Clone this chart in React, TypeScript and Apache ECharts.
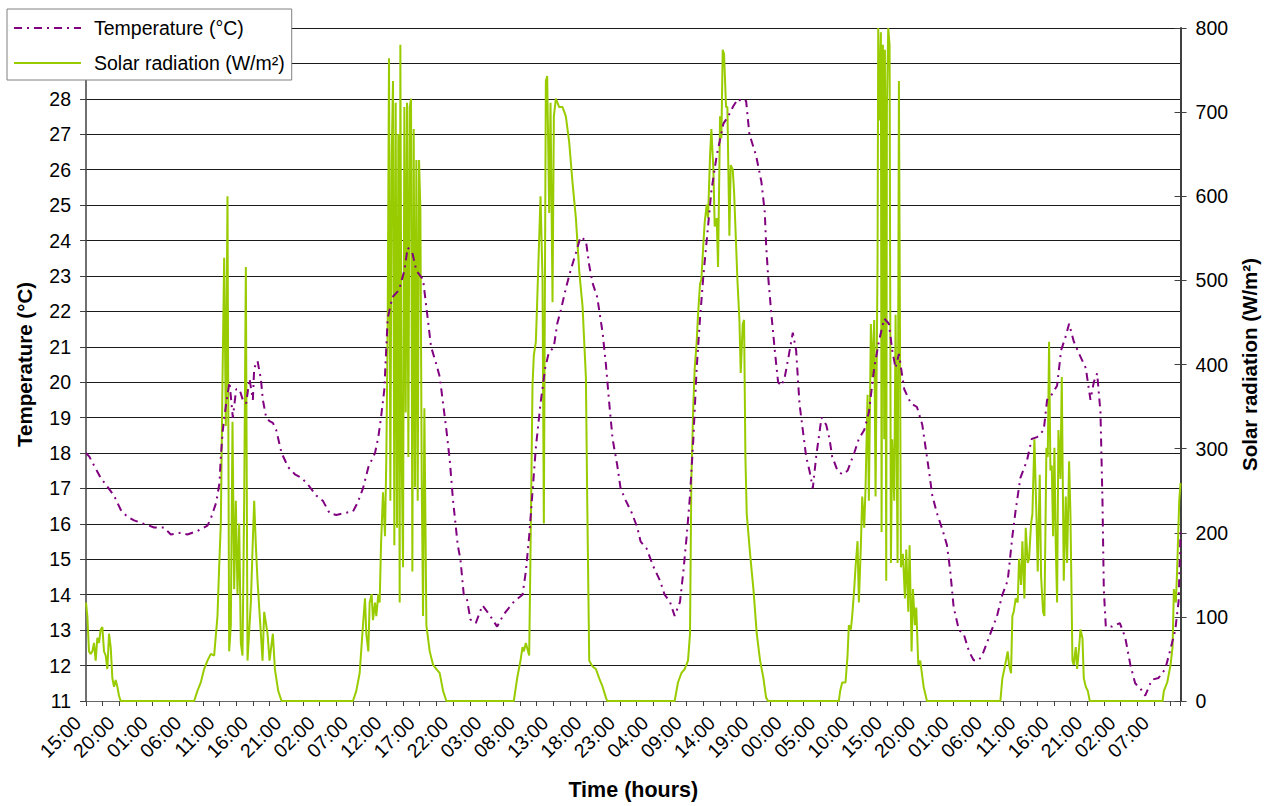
import React, { useEffect, useRef } from "react";
import * as echarts from "echarts";

const FONT = "'Liberation Sans', Arial, sans-serif";

// x tick labels, one every 5 hours starting at t = 0 h (15:00)
const timeLabels = [
  "15:00", "20:00", "01:00", "06:00", "11:00", "16:00", "21:00", "02:00", "07:00",
  "12:00", "17:00", "22:00", "03:00", "08:00", "13:00", "18:00", "23:00", "04:00",
  "09:00", "14:00", "19:00", "00:00", "05:00", "10:00", "15:00", "20:00", "01:00",
  "06:00", "11:00", "16:00", "21:00", "02:00", "07:00",
];

// [hours since start, temperature °C]
const temperatureByHour: [number, number][] = [
  [0, 18.0], [0.5, 17.9], [1.2, 17.65], [2.2, 17.3], [3.2, 17.05], [4.2, 16.8], [5.2, 16.4],
  [6.2, 16.2], [7.2, 16.1], [8.7, 16.0], [10.2, 15.9], [11.7, 15.9], [12.7, 15.7], [14.2, 15.75],
  [15.2, 15.7], [16.7, 15.8], [18.2, 15.95], [18.7, 16.15], [19.5, 16.6], [20, 17.15], [20.2, 17.9],
  [20.5, 18.65], [21, 19.4], [21.5, 20.0], [22, 19.0], [22.5, 19.8], [23, 19.8], [23.5, 19.5],
  [24, 19.4], [24.5, 20.1], [25, 19.5], [25.2, 20.4], [25.7, 20.6], [26.2, 20.1], [26.5, 19.5],
  [27, 19.0], [27.5, 18.9], [28, 18.85], [28.5, 18.65], [29.3, 18.0], [30.3, 17.6], [31.3, 17.4],
  [32.3, 17.3], [33.3, 17.1], [34.5, 16.8], [35.5, 16.65], [36.5, 16.3], [37.5, 16.25], [38.5, 16.3],
  [40, 16.35], [40.7, 16.6], [41.5, 17.0], [42.3, 17.6], [43.3, 18.0], [43.8, 18.45], [44.2, 19.0],
  [44.7, 19.8], [45.2, 21.8], [45.9, 22.4], [46.9, 22.6], [47.7, 23.15], [48.2, 23.8], [48.9, 23.65],
  [49.5, 23.15], [50.5, 22.9], [51.2, 21.8], [51.7, 21.0], [52.5, 20.5], [53, 20.15], [53.5, 19.4],
  [54, 18.65], [54.5, 17.8], [55, 16.65], [55.7, 15.4], [56.1, 15.0], [56.6, 14.0], [57.1, 13.85],
  [57.6, 13.3], [58.4, 13.2], [59.4, 13.7], [60.4, 13.45], [61.6, 13.1], [62.6, 13.45], [64.1, 13.8],
  [65.4, 14.0], [65.9, 14.65], [66.4, 15.65], [66.9, 16.9], [67.4, 18.15], [68.1, 19.4], [68.8, 20.4],
  [69.3, 20.8], [70.1, 21.0], [70.6, 21.65], [71.1, 22.0], [71.9, 22.65], [72.6, 23.15], [73.4, 23.65],
  [74.1, 24.1], [74.9, 24.0], [75.4, 23.3], [75.9, 22.8], [76.6, 22.4], [77.4, 21.4], [77.9, 20.5],
  [78.4, 19.4], [78.9, 18.4], [79.6, 17.65], [80.1, 17.0], [80.9, 16.65], [81.8, 16.3], [82.6, 15.9],
  [83.1, 15.5], [84, 15.3], [85, 14.8], [86, 14.4], [86.7, 14.0], [87.5, 13.8], [88.2, 13.4],
  [89, 13.8], [89.5, 14.65], [90, 15.65], [90.5, 16.8], [91, 18.4], [91.5, 20.4], [92, 21.8],
  [92.5, 23.0], [93, 24.0], [93.7, 25.4], [94.5, 26.4], [95.5, 27.3], [96.2, 27.5], [97, 27.8],
  [97.7, 28.0], [98.4, 27.9], [98.9, 27.95], [99.4, 27.0], [100.4, 26.4], [101.2, 25.65], [101.7, 24.8],
  [101.9, 23.9], [102.2, 23.0], [102.7, 21.9], [103.2, 20.9], [103.7, 20.0], [104.2, 19.9], [104.7, 20.15],
  [105.2, 20.65], [105.9, 21.4], [106.4, 20.9], [106.9, 19.4], [107.4, 18.65], [107.9, 17.9], [108.4, 17.5],
  [108.9, 17.0], [109.4, 17.9], [110.2, 19.0], [110.9, 18.8], [111.4, 18.4], [111.8, 17.9], [112.6, 17.5],
  [113.3, 17.4], [114.1, 17.5], [115.1, 18.0], [115.8, 18.4], [116.6, 18.65], [117.3, 19.15], [118.1, 20.4],
  [118.8, 21.15], [119.6, 21.8], [120.3, 21.65], [120.8, 20.9], [121.3, 20.4], [121.8, 20.8], [122.6, 19.8],
  [123.6, 19.4], [124.5, 19.3], [125.3, 18.8], [125.8, 18.15], [126.3, 17.5], [126.8, 16.8], [127.5, 16.3],
  [128.3, 15.85], [129, 15.4], [129.5, 14.65], [130, 13.65], [130.8, 13.0], [131.5, 12.9], [132.3, 12.4],
  [133, 12.15], [133.8, 12.15], [134.5, 12.4], [135.5, 12.9], [136.5, 13.4], [137.3, 14.0], [138.1, 14.4],
  [138.8, 15.65], [139.3, 16.4], [140, 17.3], [141, 17.8], [141.7, 18.4], [142.5, 18.45], [143.5, 18.65],
  [144, 19.5], [144.7, 19.65], [145.5, 19.9], [146.1, 20.9], [146.8, 21.3], [147.3, 21.65], [148, 21.15],
  [148.8, 20.8], [149.8, 20.4], [150.5, 19.5], [151, 20.0], [151.5, 20.25], [152, 19.15], [152.3, 16.65],
  [152.5, 14.15], [152.8, 13.1], [153.7, 13.1], [154.9, 13.2], [155.7, 12.8], [156.5, 12.0], [157.2, 11.5],
  [158, 11.35], [158.7, 11.15], [159.7, 11.6], [160.7, 11.65], [161.7, 11.9], [162.4, 12.4], [163.2, 13.0],
  [163.7, 13.8], [164, 15.8],
];

// [hours since start, solar radiation W/m²]
const solarByHour: [number, number][] = [
  [0, 117], [0.2, 101], [0.45, 59], [0.7, 56], [0.95, 59], [1.2, 69], [1.45, 48], [1.7, 75], [1.95, 69],
  [2.2, 85], [2.45, 88], [2.7, 59], [2.95, 54], [3.2, 38], [3.45, 80], [3.7, 64], [3.95, 27], [4.2, 17],
  [4.45, 25], [4.7, 17], [4.95, 6], [5.2, 0], [16.2, 0], [16.7, 12], [17.2, 22], [17.7, 38], [18.2, 48],
  [18.7, 56], [19.2, 54], [19.7, 101], [19.95, 159], [20.2, 211], [20.45, 380], [20.7, 527], [20.95, 327],
  [21.2, 600], [21.45, 59], [21.7, 90], [21.95, 332], [22.2, 133], [22.45, 238], [22.7, 127], [22.95, 211],
  [23.2, 69], [23.45, 54], [23.7, 238], [23.95, 516], [24.2, 48], [24.7, 117], [24.95, 180], [25.2, 238],
  [25.45, 185], [25.7, 143], [26.2, 80], [26.45, 48], [26.7, 106], [27.2, 80], [27.5, 48], [28, 80],
  [28.3, 38], [28.8, 12], [29.3, 0],
  [40, 0], [40.5, 12], [41, 33], [41.5, 90], [41.8, 122], [42, 80], [42.3, 59], [42.5, 117], [42.8, 127],
  [43, 96], [43.3, 117], [43.5, 101], [43.8, 127], [44, 117], [44.2, 185], [44.5, 248], [44.8, 196],
  [45, 290], [45.2, 448], [45.4, 764], [45.6, 238], [45.8, 648], [46, 737], [46.2, 185], [46.4, 711],
  [46.6, 206], [46.8, 674], [47, 117], [47.1, 780], [47.3, 290], [47.5, 159], [47.7, 706], [47.9, 343],
  [48.1, 711], [48.3, 290], [48.5, 706], [48.7, 716], [48.9, 154], [49.1, 680], [49.3, 254], [49.5, 643],
  [49.7, 238], [49.9, 643], [50.1, 585], [50.3, 264], [50.5, 101], [50.7, 348], [51, 90], [51.5, 59],
  [52, 43], [52.5, 38], [53, 33], [53.5, 12], [54, 0],
  [64.1, 0], [64.6, 27], [65.1, 48], [65.4, 64], [65.6, 59], [65.9, 69], [66.4, 54], [66.6, 175],
  [66.9, 375], [67.1, 411], [67.4, 427], [67.6, 474], [68.1, 600], [68.4, 501], [68.6, 211], [68.9, 737],
  [69.1, 743], [69.4, 580], [69.6, 711], [69.9, 474], [70.1, 695], [70.4, 716], [70.9, 706], [71.4, 706],
  [71.9, 695], [72.4, 664], [72.9, 616], [73.4, 574], [73.9, 511], [74.4, 469], [74.9, 385], [75.1, 238],
  [75.4, 48], [75.9, 41], [76.4, 38], [76.9, 27], [77.4, 17], [77.9, 4], [78.1, 0],
  [88.2, 0], [88.7, 22], [89.2, 33], [89.7, 38], [90.2, 48], [90.5, 80], [90.7, 264], [91, 353],
  [91.2, 395], [91.5, 427], [91.7, 459], [92, 496], [92.2, 501], [92.5, 543], [92.7, 569], [93, 590],
  [93.2, 574], [93.5, 648], [93.7, 680], [94, 632], [94.2, 564], [94.5, 574], [94.7, 516], [95, 695],
  [95.2, 669], [95.4, 774], [95.6, 769], [95.9, 706], [96.1, 706], [96.4, 553], [96.6, 637], [96.9, 632],
  [97.1, 606], [97.4, 543], [97.6, 501], [97.9, 453], [98.1, 390], [98.4, 448], [98.6, 453], [98.8, 290],
  [99, 222], [99.5, 175], [100, 133], [100.5, 80], [101, 48], [101.5, 27], [101.9, 4], [102.2, 0],
  [112.8, 0], [113, 12], [113.3, 22], [113.8, 22], [114.1, 54], [114.3, 90], [114.6, 85], [114.8, 101],
  [115.1, 133], [115.3, 159], [115.6, 190], [115.8, 117], [116.1, 185], [116.3, 243], [116.6, 206],
  [116.8, 254], [117.1, 364], [117.3, 238], [117.6, 448], [117.8, 385], [118.1, 453], [118.3, 243],
  [118.6, 522], [118.7, 800], [118.9, 690], [119.1, 795], [119.2, 201], [119.4, 780], [119.6, 311],
  [119.7, 774], [119.9, 143], [120, 706], [120.2, 800], [120.4, 780], [120.6, 164], [120.8, 311],
  [121.1, 238], [121.3, 459], [121.6, 164], [121.8, 737], [121.9, 553], [122.1, 159], [122.4, 175],
  [122.7, 122], [122.9, 180], [123.2, 106], [123.4, 185], [123.7, 59], [123.9, 133], [124.2, 90],
  [124.4, 111], [124.7, 43], [125, 48], [125.5, 17], [126, 0],
  [137, 0], [137.3, 27], [137.6, 38], [138.1, 59], [138.3, 43], [138.6, 33], [138.8, 101], [139, 106],
  [139.3, 122], [139.6, 117], [139.8, 169], [140.1, 138], [140.3, 190], [140.6, 122], [140.8, 206],
  [141.1, 164], [141.3, 169], [141.6, 211], [141.8, 222], [142.1, 311], [142.4, 222], [142.6, 154],
  [142.9, 269], [143.1, 148], [143.4, 106], [143.6, 101], [143.9, 301], [144.1, 290], [144.3, 427],
  [144.5, 274], [144.7, 280], [144.9, 196], [145.1, 301], [145.3, 185], [145.5, 117], [145.7, 322],
  [146, 264], [146.2, 385], [146.5, 143], [146.8, 243], [147, 164], [147.3, 285], [147.5, 222],
  [147.8, 48], [148, 43], [148.3, 64], [148.5, 38], [148.8, 64], [149, 85], [149.3, 75], [149.5, 27],
  [149.8, 17], [150.1, 12], [150.4, 0],
  [161.3, 0], [161.5, 12], [162, 22], [162.5, 43], [162.8, 64], [163, 133], [163.3, 117], [163.5, 159],
  [163.8, 238], [164, 259],
];

export default function App() {
  const ref = useRef<HTMLDivElement>(null);

  useEffect(() => {
    if (!ref.current) return;
    const chart = echarts.init(ref.current, undefined, { renderer: "svg" });
    const tickFont = { fontFamily: FONT, fontSize: 19.5, color: "#000" };
    const titleFont = { fontFamily: FONT, fontSize: 21.5, fontWeight: "bold" as const, color: "#000" };

    chart.setOption({
      animation: false,
      backgroundColor: "#ffffff",
      grid: { left: 86, right: 87, top: 28, bottom: 104, containLabel: false },
      legend: {
        orient: "vertical",
        left: 7,
        top: 9,
        itemWidth: 67,
        itemHeight: 14,
        itemGap: 13,
        padding: [8, 7, 6, 6],
        backgroundColor: "#ffffff",
        borderColor: "#808080",
        borderWidth: 1,
        borderRadius: 0,
        itemStyle: { opacity: 0 },
        textStyle: { ...tickFont, lineHeight: 22, padding: [0, 0, 0, 8] },
        data: ["Temperature (°C)", "Solar radiation (W/m²)"],
      },
      xAxis: {
        type: "value",
        min: 0,
        max: 164,
        interval: 2.5,
        name: "Time (hours)",
        nameLocation: "middle",
        nameGap: 78,
        nameTextStyle: titleFont,
        axisLine: { show: true, lineStyle: { color: "#666666", width: 1 } },
        axisTick: { show: true, length: 5, lineStyle: { color: "#444444" } },
        splitLine: { show: false },
        axisLabel: {
          ...tickFont,
          rotate: 45,
          margin: 10,
          padding: [0, 12, 0, 0],
          formatter: (v: number) => {
            const k = v / 5;
            return Number.isInteger(k) && k < timeLabels.length ? timeLabels[k] : "";
          },
        },
      },
      yAxis: [
        {
          type: "value",
          min: 11,
          max: 30,
          interval: 1,
          position: "left",
          name: "Temperature (°C)",
          nameLocation: "middle",
          nameRotate: 90,
          nameGap: 51,
          nameTextStyle: { ...titleFont, fontSize: 20.5 },
          axisLine: { show: true, lineStyle: { color: "#404040", width: 1.5 } },
          axisTick: { show: true, length: 6, lineStyle: { color: "#404040" } },
          axisLabel: { ...tickFont, margin: 15 },
          splitLine: { show: true, lineStyle: { color: "#1a1a1a", width: 1 } },
        },
        {
          type: "value",
          min: 0,
          max: 800,
          interval: 100,
          position: "right",
          name: "Solar radiation (W/m²)",
          nameLocation: "middle",
          nameRotate: 90,
          nameGap: 57,
          nameTextStyle: { ...titleFont, fontSize: 20.5 },
          axisLine: { show: true, lineStyle: { color: "#404040", width: 2 } },
          axisTick: { show: true, length: 6, lineStyle: { color: "#404040" } },
          axisLabel: { ...tickFont, margin: 15 },
          splitLine: { show: false },
        },
        {
          type: "value",
          min: 0,
          max: 800,
          interval: 100,
          position: "right",
          axisLine: { show: false },
          axisTick: { show: true, inside: true, length: 6, lineStyle: { color: "#404040" } },
          axisLabel: { show: false },
          splitLine: { show: false },
        },
      ],
      series: [
        {
          name: "Temperature (°C)",
          type: "line",
          yAxisIndex: 0,
          data: temperatureByHour,
          symbol: "none",
          z: 3,
          itemStyle: { color: "#800080" },
          lineStyle: { color: "#800080", width: 2, type: [8, 5, 2, 5] },
        },
        {
          name: "Solar radiation (W/m²)",
          type: "line",
          yAxisIndex: 1,
          data: solarByHour,
          symbol: "none",
          z: 2,
          itemStyle: { color: "#99cc00" },
          lineStyle: { color: "#99cc00", width: 2 },
        },
      ],
    });

    return () => chart.dispose();
  }, []);

  return (
    <div
      ref={ref}
      style={{ position: "fixed", left: 0, top: 0, width: 1268, height: 806, background: "#fff" }}
    />
  );
}
